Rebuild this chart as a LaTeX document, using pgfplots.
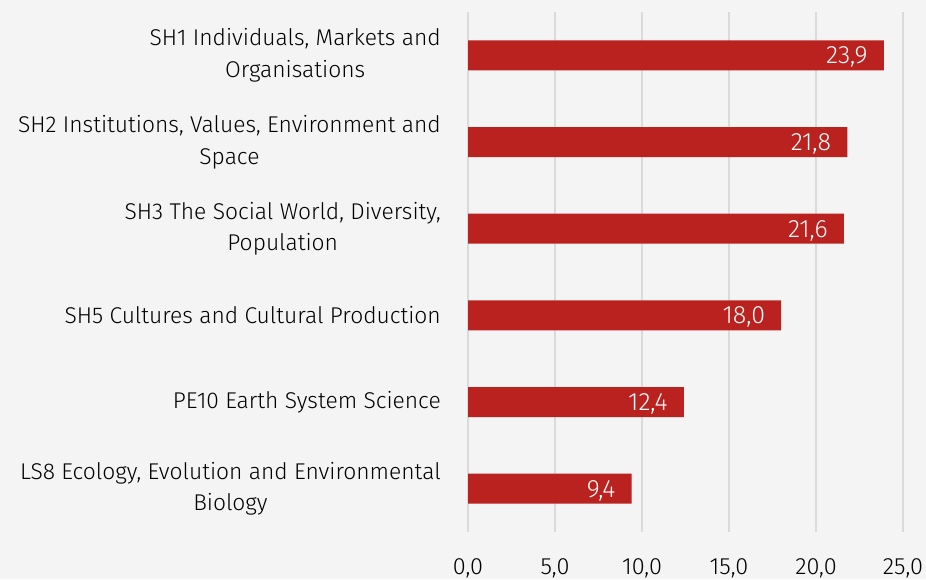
\documentclass[border=0pt]{standalone}
\usepackage{pgfplots}
\pgfplotsset{compat=1.18}
\usepackage{fontspec}
\setmainfont{Fira Sans}[UprightFont={* Light}]
\definecolor{bg}{HTML}{F4F4F4}
\definecolor{barred}{HTML}{BA221F}
\definecolor{gridc}{HTML}{DADADA}
\begin{document}
\begin{tikzpicture}
\fill[bg] (0,0) rectangle (926pt,579pt);
\useasboundingbox (0,0) rectangle (926pt,579pt);
\begin{axis}[
    at={(468pt,47pt)}, anchor=south west,
    scale only axis, width=435pt, height=520pt,
    xbar, bar width=30pt,
    xmin=0, xmax=25, ymin=-0.5, ymax=5.5,
    y dir=reverse,
    xtick={0,5,10,15,20,25},
    ytick={0,1,2,3,4,5},
    yticklabels={
      {SH1 Individuals, Markets and\\Organisations},
      {SH2 Institutions, Values, Environment and\\Space},
      {SH3 The Social World, Diversity,\\Population},
      {SH5 Cultures and Cultural Production},
      {PE10 Earth System Science},
      {LS8 Ecology, Evolution and Environmental\\Biology}},
    yticklabel style={align=center, font=\fontsize{22.8}{31.5}\selectfont, inner sep=0pt, xshift=-27pt},
    xticklabel style={font=\fontsize{23.5}{26}\selectfont, inner sep=0pt, yshift=-26pt},
    /pgf/number format/.cd, use comma, fixed, fixed zerofill, precision=1, assume math mode=true,
    /pgfplots/.cd,
    axis line style={draw=none},
    major tick length=0pt,
    xmajorgrids, grid style={gridc, line width=1.2pt},
    nodes near coords,
    nodes near coords style={anchor=east, text=white, inner sep=0pt, xshift=-16pt, yshift=-2pt,
      font=\fontsize{25}{28}\selectfont,
      /pgf/number format/.cd, use comma, fixed, fixed zerofill, precision=1, assume math mode=true},
]
\addplot[fill=barred, draw=none] coordinates {
  (23.9,0) (21.8,1) (21.6,2) (18.0,3) (12.4,4) (9.4,5)};
\end{axis}
\end{tikzpicture}
\end{document}
